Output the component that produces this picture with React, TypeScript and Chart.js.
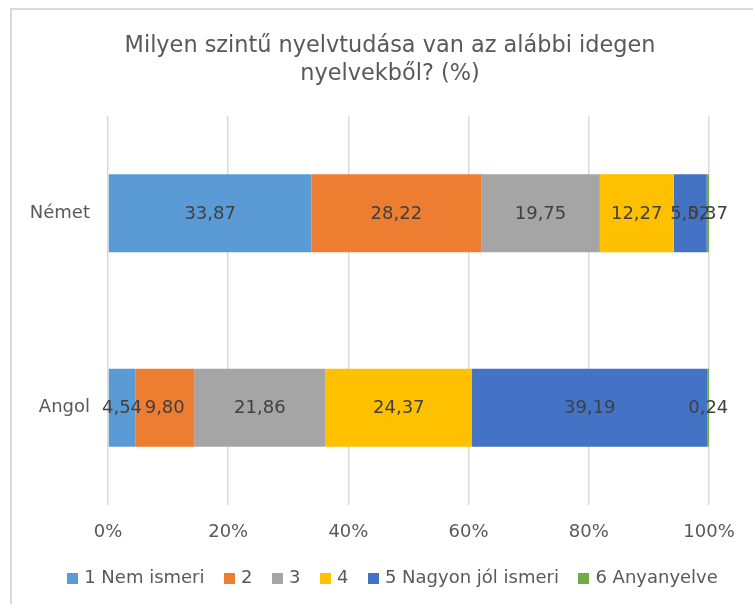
import React, { useEffect, useRef } from "react";
import { Chart, registerables } from "chart.js";

Chart.register(...registerables);

const categories = ["Német", "Angol"];
const seriesNames = ["1 Nem ismeri", "2", "3", "4", "5 Nagyon jól ismeri", "6 Anyanyelve"];
const level1 = [33.87, 4.54];
const level2 = [28.22, 9.8];
const level3 = [19.75, 21.86];
const level4 = [12.27, 24.37];
const level5 = [5.52, 39.19];
const level6 = [0.37, 0.24];
const seriesColors = ["#5B9BD5", "#ED7D31", "#A5A5A5", "#FFC000", "#4472C4", "#70AD47"];
const titleLines = ["Milyen szintű nyelvtudása van az alábbi idegen", "nyelvekből? (%)"];
const xTickValues = [0, 20, 40, 60, 80, 100];

const FONT = "'DejaVu Sans', Verdana, sans-serif";

const titlePlugin = {
  id: "customTitle",
  afterDraw(chart: any) {
    const ctx = chart.ctx;
    ctx.save();
    ctx.font = `22.4px ${FONT}`;
    ctx.fillStyle = "#595959";
    ctx.textAlign = "center";
    ctx.textBaseline = "alphabetic";
    ctx.fillText(titleLines[0], 390, 52);
    ctx.fillText(titleLines[1], 390, 80);
    ctx.restore();
  },
};

const legendPlugin = {
  id: "customLegend",
  afterDraw(chart: any) {
    const ctx = chart.ctx;
    ctx.save();
    ctx.font = `18px ${FONT}`;
    const box = 11;
    const gap = 6;
    const itemGap = 19.5;
    const items = chart.data.datasets.map((ds: any) => ({
      text: ds.label,
      color: ds.backgroundColor,
      w: box + gap + ctx.measureText(ds.label).width,
    }));
    const total = items.reduce((s: number, it: any) => s + it.w, 0) + itemGap * (items.length - 1);
    let x = 392.5 - total / 2;
    const cy = 578.5;
    ctx.textAlign = "left";
    ctx.textBaseline = "middle";
    items.forEach((it: any) => {
      ctx.fillStyle = it.color;
      ctx.fillRect(Math.round(x), Math.round(cy - box / 2), box, box);
      ctx.fillStyle = "#595959";
      ctx.fillText(it.text, x + box + gap, cy);
      x += it.w + itemGap;
    });
    ctx.restore();
  },
};

const labelPlugin = {
  id: "segLabels",
  afterDatasetsDraw(chart: any) {
    const ctx = chart.ctx;
    ctx.save();
    ctx.font = `18px ${FONT}`;
    ctx.fillStyle = "#404040";
    ctx.textAlign = "center";
    ctx.textBaseline = "middle";
    chart.data.datasets.forEach((ds: any, di: number) => {
      const meta = chart.getDatasetMeta(di);
      meta.data.forEach((bar: any, i: number) => {
        const v = ds.data[i];
        const cx = (bar.x + bar.base) / 2;
        ctx.fillText(v.toFixed(2).replace(".", ","), cx, bar.y + 1);
      });
    });
    ctx.restore();
  },
};

export default function App() {
  const ref = useRef<HTMLCanvasElement | null>(null);
  useEffect(() => {
    if (!ref.current) return;
    const values = [level1, level2, level3, level4, level5, level6];
    const chart = new Chart(ref.current, {
      type: "bar",
      data: {
        labels: categories,
        datasets: seriesNames.map((name, i) => ({
          label: name,
          data: values[i],
          backgroundColor: seriesColors[i],
          borderWidth: 0,
          categoryPercentage: 0.4,
          barPercentage: 1,
        })),
      },
      options: {
        indexAxis: "y",
        responsive: false,
        animation: false,
        devicePixelRatio: 1,
        layout: { padding: { top: 116, left: 0, right: 44, bottom: 49 } },
        scales: {
          x: {
            stacked: true,
            min: 0,
            max: 100,
            afterBuildTicks: (s: any) => {
              s.ticks = xTickValues.map((v) => ({ value: v }));
            },
            afterFit: (s: any) => {
              s.height = 50;
            },
            ticks: {
              callback: (v: any) => v + "%",
              font: { family: FONT, size: 18 },
              color: "#595959",
              padding: 17,
            },
            grid: { color: "#d9d9d9", lineWidth: 1.5, drawTicks: false },
            border: { display: false },
          },
          y: {
            stacked: true,
            afterFit: (s: any) => {
              s.width = 108;
            },
            ticks: {
              font: { family: FONT, size: 18 },
              color: "#595959",
              padding: 18,
            },
            grid: { display: false, drawTicks: false },
            border: { display: false },
          },
        },
        plugins: {
          legend: { display: false },
          title: { display: false },
          tooltip: { enabled: false },
        },
      },
      plugins: [titlePlugin, labelPlugin, legendPlugin],
    } as any);
    return () => chart.destroy();
  }, []);

  return (
    <div
      style={{
        position: "fixed",
        left: 0,
        top: 0,
        width: 753,
        height: 604,
        overflow: "hidden",
        background: "#fff",
      }}
    >
      <div
        style={{
          position: "absolute",
          left: 10,
          top: 8,
          width: 800,
          height: 700,
          border: "2px solid #d9d9d9",
          boxSizing: "border-box",
        }}
      />
      <canvas
        ref={ref}
        width={753}
        height={604}
        style={{ position: "absolute", left: 0, top: 0, width: 753, height: 604 }}
      />
    </div>
  );
}
